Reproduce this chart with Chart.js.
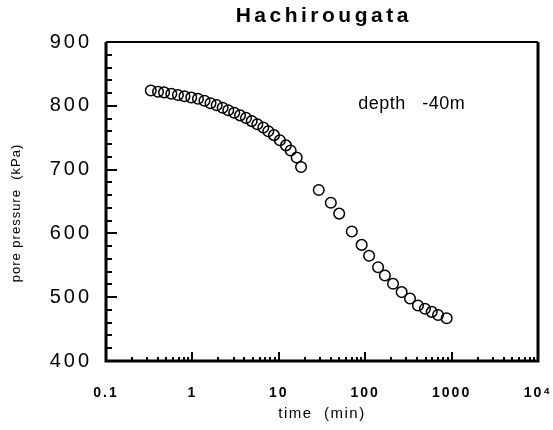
<!DOCTYPE html>
<html>
<head>
<meta charset="utf-8">
<script src="https://cdn.jsdelivr.net/npm/chart.js@4.4.1/dist/chart.umd.min.js"></script>
<style>
  body { margin: 0; background: #fff; }
  #wrap { width: 553px; height: 430px; }
</style>
</head>
<body>
<div id="wrap"><canvas id="myChart" width="553" height="430"></canvas></div>
<script>
// values (time in min, pore pressure in kPa)
var timeMin = [0.33, 0.40, 0.47, 0.57, 0.68, 0.81, 0.97, 1.16, 1.38, 1.62, 1.91, 2.24, 2.6, 3.05,
               3.56, 4.17, 4.86, 5.64, 6.62, 7.56, 8.8, 10.3, 12.1, 13.7, 16.1, 18.1,
               29, 40, 50, 70, 91, 111, 141, 169, 210, 264, 330, 408, 492, 589, 697, 877];
var porePressure = [824, 822, 821, 819, 817, 815, 813, 811, 808, 804, 801, 797, 793, 789,
                    785, 781, 776, 771, 766, 760, 754, 746, 738, 730, 719, 704,
                    668, 648, 631, 603, 582, 565, 547, 534, 521, 508, 498, 487, 482, 477, 472, 467];

var xDecades = [0.1, 1, 10, 100, 1000, 10000];
var xTickLabels = ["0.1", "1", "10", "100", "1000", "10\u2074"];
var yMajor = [400, 500, 600, 700, 800, 900];
var yMinorStep = 20;

var chartTitle = "Hachirougata";
var noteText = "depth   -40m";

// minor ticks 2..9 in each decade
var xTickValues = [];
for (var d = 0; d < xDecades.length - 1; d++) {
  for (var k = 1; k < 10; k++) xTickValues.push(k * xDecades[d]);
}
xTickValues.push(xDecades[xDecades.length - 1]);
var yTickValues = [];
for (var v = yMajor[0]; v <= yMajor[yMajor.length - 1]; v += yMinorStep) yTickValues.push(v);

var points = timeMin.map(function (t, i) { return { x: t, y: porePressure[i] }; });

function spaced(fn, sp) {
  return function (a) {
    var c = this.ctx;
    c.save();
    c.letterSpacing = sp;
    fn.call(this, a);
    c.restore();
  };
}

var framePlugin = {
  id: 'frame',
  beforeDraw: function (chart) {
    var sx = chart.scales.x, sy = chart.scales.y;
    if (!sx._sp) {
      sx.drawLabels = spaced(sx.drawLabels, '2px');
      sy.drawLabels = spaced(sy.drawLabels, '3px');
      sy.drawTitle = spaced(sy.drawTitle, '1px');
      sx.drawTitle = spaced(sx.drawTitle, '1.5px');
      sx._sp = true;
    }
  },
  afterDraw: function (chart) {
    var ctx = chart.ctx, a = chart.chartArea;
    var sx = chart.scales.x, sy = chart.scales.y;
    ctx.save();
    ctx.strokeStyle = '#000';
    ctx.lineCap = 'butt';

    // frame
    ctx.lineWidth = 3;
    ctx.beginPath();
    ctx.moveTo(a.left, a.top); ctx.lineTo(a.left, a.bottom);
    ctx.moveTo(a.left - 1.5, a.bottom); ctx.lineTo(a.right + 1.5, a.bottom);
    ctx.moveTo(a.right, a.bottom); ctx.lineTo(a.right, a.top);
    ctx.stroke();
    ctx.lineWidth = 2;
    ctx.beginPath();
    ctx.moveTo(a.left, a.top); ctx.lineTo(a.right, a.top);
    ctx.stroke();

    // inward ticks
    ctx.lineWidth = 2;
    ctx.beginPath();
    sx.ticks.forEach(function (t) {
      var px = Math.round(sx.getPixelForValue(t.value));
      var len = xDecades.indexOf(t.value) >= 0 ? 9 : 4;
      ctx.moveTo(px, a.bottom); ctx.lineTo(px, a.bottom - len);
    });
    sy.ticks.forEach(function (t) {
      var py = Math.round(sy.getPixelForValue(t.value));
      var len = t.value % 100 === 0 ? 11 : 6;
      ctx.moveTo(a.left, py); ctx.lineTo(a.left + len, py);
    });
    ctx.stroke();

    // title
    ctx.fillStyle = '#000';
    ctx.letterSpacing = '3.5px';
    ctx.font = 'bold 21px "Liberation Sans", Arial, sans-serif';
    ctx.textAlign = 'center';
    ctx.textBaseline = 'middle';
    ctx.fillText(chartTitle, (a.left + a.right) / 2 + 1.75, 16);

    // note
    ctx.letterSpacing = '0.5px';
    ctx.font = '18px "Liberation Sans", Arial, sans-serif';
    ctx.textAlign = 'left';
    ctx.fillText(noteText, sx.getPixelForValue(83), sy.getPixelForValue(803));
    ctx.restore();
  }
};

new Chart('myChart', {
  type: 'scatter',
  data: {
    datasets: [{
      data: points,
      pointStyle: 'circle',
      pointRadius: 5.3,
      pointBorderWidth: 1.5,
      pointBorderColor: '#000',
      pointBackgroundColor: 'rgba(0,0,0,0)',
      showLine: false
    }]
  },
  options: {
    responsive: false,
    animation: false,
    events: [],
    layout: { padding: { top: 42, right: 15, left: 0, bottom: 0 } },
    plugins: { legend: { display: false }, tooltip: { enabled: false }, title: { display: false } },
    scales: {
      x: {
        type: 'logarithmic',
        min: 0.1,
        max: 10000,
        afterFit: function (s) { s.height = 69; s.paddingLeft = 0; s.paddingRight = 0; },
        afterBuildTicks: function (s) { s.ticks = xTickValues.map(function (v) { return { value: v }; }); },
        grid: { display: false, drawTicks: false },
        border: { display: false },
        ticks: {
          autoSkip: false, maxRotation: 0, padding: 24, color: '#000',
          font: { family: '"Liberation Sans", Arial, sans-serif', size: 14, weight: 'bold' },
          callback: function (v) {
            var i = xDecades.indexOf(v);
            return i < 0 ? '' : xTickLabels[i];
          }
        },
        title: {
          display: true, text: 'time  (min)', color: '#000',
          font: { family: '"Liberation Sans", Arial, sans-serif', size: 15 },
          padding: { top: 7, bottom: 7 }
        }
      },
      y: {
        min: 400,
        max: 900,
        afterFit: function (s) { s.width = 106; s.paddingTop = 0; s.paddingBottom = 0; },
        afterBuildTicks: function (s) { s.ticks = yTickValues.map(function (v) { return { value: v }; }); },
        grid: { display: false, drawTicks: false },
        border: { display: false },
        ticks: {
          autoSkip: false, padding: 14, color: '#000',
          font: { family: '"Liberation Sans", Arial, sans-serif', size: 20 },
          callback: function (v) { return v % 100 === 0 ? String(v) : ''; }
        },
        title: {
          display: true, text: 'pore pressure  (kPa)     ', color: '#000',
          font: { family: '"Liberation Sans", Arial, sans-serif', size: 13 },
          padding: { top: 9, bottom: 9 }
        }
      }
    }
  },
  plugins: [framePlugin]
});
</script>
</body>
</html>
